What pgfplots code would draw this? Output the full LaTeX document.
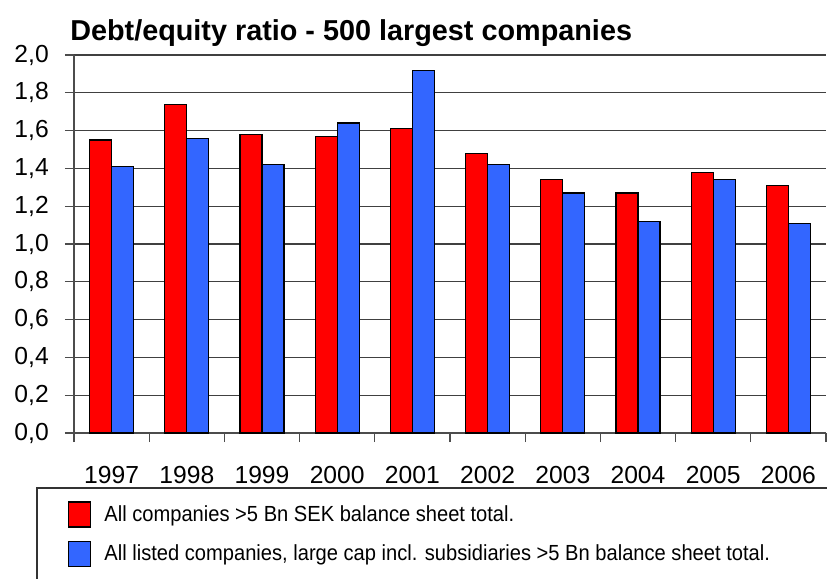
\documentclass[border=0pt]{standalone}
\usepackage{pgfplots}
\pgfplotsset{compat=1.18}
\usepackage{graphicx}
\usepackage{fontspec}
\setmainfont{Liberation Sans}
\definecolor{barred}{HTML}{FF0000}
\definecolor{barblue}{HTML}{3366FF}
\newcommand{\leg}[1]{\scalebox{0.92}[1]{#1}}
\begin{document}
\begin{tikzpicture}
\begin{axis}[
  name=ax,
  at={(0,0)}, anchor=south west,
  scale only axis,
  width=564pt, height=283.5pt,
  xmin=-0.5, xmax=9.5,
  ymin=0, ymax=2,
  ytick={0,0.2,...,2.01},
  axis lines*=left,
  axis line style={draw=black!70, line width=0.9pt},
  tick align=outside,
  major tick length=6.75pt,
  tick style={draw=black!70, line width=0.9pt},
  xtick={-0.5,0.5,...,9.6},
  xticklabels={},
  extra x ticks={0,1,2,3,4,5,6,7,8,9},
  extra x tick labels={1997,1998,1999,2000,2001,2002,2003,2004,2005,2006},
  extra x tick style={major tick length=0pt, grid=none},
  xticklabel style={anchor=north, inner sep=0pt, yshift=-24.5pt, font=\fontsize{18.5}{20}\selectfont},
  yticklabel style={anchor=east, inner sep=0pt, xshift=-12pt, font=\fontsize{18.5}{20}\selectfont,
    /pgf/number format/.cd, fixed, fixed zerofill, precision=1, use comma, assume math mode=true},
  ymajorgrids,
  grid style={draw=black!75, line width=0.8pt},
  ybar, bar width=16.5pt,
  title={\bfseries Debt/equity ratio - 500 largest companies},
  title style={at={(axis description cs:-0.0053,1.0185)}, anchor=base west, inner sep=0pt, yshift=0pt, font=\fontsize{21.6}{24}\selectfont},
  legend style={at={(axis description cs:-0.008,-0.18)}, anchor=north west, draw=none, fill=none,
    inner sep=0pt, row sep=10pt, column sep=9.75pt, nodes={inner sep=0pt, anchor=west},
    font=\fontsize{16.4}{18}\selectfont},
  legend cell align=left,
  legend image code/.code={\draw[#1] (0pt,-9.4pt) rectangle (16.5pt,9.4pt);},
  clip=false,
]
\addplot[fill=barred, draw=black, line width=0.9pt, bar shift=-8.25pt] coordinates {
  (0,1.55) (1,1.74) (2,1.58) (3,1.57) (4,1.61) (5,1.48) (6,1.34) (7,1.27) (8,1.38) (9,1.31)};
\addplot[fill=barblue, draw=black, line width=0.9pt, bar shift=8.25pt] coordinates {
  (0,1.41) (1,1.56) (2,1.42) (3,1.64) (4,1.92) (5,1.42) (6,1.27) (7,1.12) (8,1.34) (9,1.11)};
\legend{\leg{All companies >5 Bn SEK balance sheet total.}, \leg{All listed companies{,} large cap incl. subsidiaries >5 Bn balance sheet total.}}
\end{axis}
\draw[shift={(ax.south west)}, black!80, line width=0.9pt] (-27.75pt,-125pt) -- (-27.75pt,-41.25pt) -- (574.5pt,-41.25pt);
\pgfresetboundingbox
\useasboundingbox[shift={(ax.south west)}] (-55.5pt,-108.75pt) rectangle (564.75pt,324.75pt);
\end{tikzpicture}
\end{document}
